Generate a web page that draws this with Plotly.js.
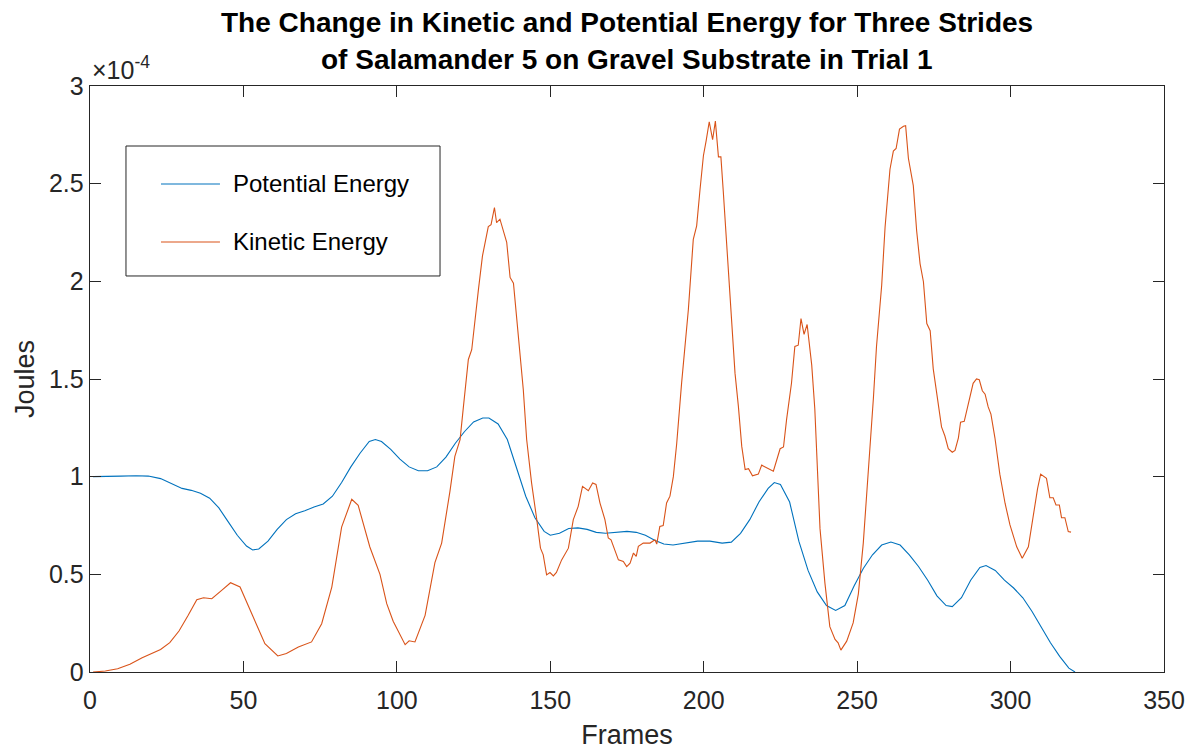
<!DOCTYPE html>
<html>
<head>
<meta charset="utf-8">
<script src="https://cdn.plot.ly/plotly-3.0.1.min.js"></script>
<style>html,body{margin:0;padding:0;background:#fff;}#chart{width:1186px;height:750px;}</style>
</head>
<body>
<div id="chart"></div>
<script>
// Values in units of 1e-4 J (axis shows ×10^-4)
const peFrames = [1,5,10,15,19,23,27,30,33,36,39,42,45,48,51,53,55,58,61,64,67,70,73,76,79,82,85,88,91,93,95,98,101,104,107,110,113,116,119,122,125,128,130,133,136,139,142,145,148,150,153,156,159,162,165,168,172,175,178,181,184,187,190,194,198,202,206,209,212,215,218,221,223,225,228,231,234,237,240,243,246,249,252,255,258,261,264,267,270,273,276,279,281,284,287,290,292,295,298,301,304,307,310,313,316,319,321];
const peValues = [1.00,1.00,1.003,1.005,1.003,0.99,0.96,0.94,0.93,0.915,0.89,0.84,0.77,0.70,0.645,0.625,0.63,0.67,0.73,0.78,0.81,0.825,0.845,0.86,0.90,0.97,1.05,1.12,1.18,1.19,1.18,1.14,1.09,1.05,1.03,1.03,1.05,1.10,1.17,1.23,1.28,1.30,1.30,1.27,1.19,1.04,0.90,0.79,0.72,0.70,0.71,0.735,0.738,0.73,0.715,0.71,0.715,0.72,0.715,0.70,0.675,0.655,0.65,0.66,0.67,0.67,0.66,0.665,0.71,0.78,0.87,0.94,0.97,0.96,0.87,0.67,0.52,0.41,0.34,0.315,0.34,0.44,0.53,0.60,0.65,0.665,0.65,0.60,0.54,0.47,0.39,0.34,0.335,0.38,0.47,0.535,0.545,0.52,0.47,0.43,0.38,0.31,0.23,0.15,0.08,0.02,0.0];

const keFrames = [1,5,9,13,17,20,23,26,29,32,34.8,37,39.7,42.9,45.8,48.9,52.7,57,61.2,64,67.9,72.2,75.5,78.8,82,85.3,87.4,91.2,94.5,96.7,98.8,101,102.7,104,105.9,109.2,112.4,114.6,115.7,117.3,118.9,120.6,121.7,123.3,124.4,126,126.6,127.9,129.8,130.7,131.8,132.5,133.6,135.8,136.9,138,139.6,141.2,142.3,143.9,145.6,146.8,147.7,148.8,149.9,151,152,153.7,155.9,157.5,159.1,160.5,162.4,163.8,164.9,166.2,167.8,168.9,169.8,172.2,173.8,174.9,176,177.1,178,178.7,180.3,182.5,184.1,184.7,185.7,186.8,187.9,189,190.1,191.2,192.8,194.4,195,196.6,197.7,198.8,199.9,200.8,201.8,202.9,203.8,204.8,205.6,206.4,207.5,208.9,210.2,211.3,212.4,213.5,214.6,215.9,217.8,218.9,222.7,224.9,226,227,228.1,228.6,229.7,230.8,231.7,232.7,233.7,235.2,236.2,237.1,237.9,239.5,241.1,242.8,243.8,244.7,246.6,248.7,250.4,252,253.6,255.3,256.3,258,259.1,260.7,261.8,262.7,263.8,265.1,265.8,266.7,268.3,269.4,270.5,271.6,272.7,273.8,274.8,276.5,277.5,278.6,279.7,281,281.9,283,283.7,284.9,285.6,286.8,287.8,288.9,289.8,290.8,291.7,292.7,293.6,294.9,296.5,298.2,299.8,302,303.8,305.8,307.4,308.8,309.8,311.7,312.8,313.9,314.8,315.9,316.6,317.7,318.8,319.7];
const keValues = [0.0,0.005,0.017,0.04,0.073,0.095,0.115,0.15,0.21,0.29,0.37,0.38,0.375,0.418,0.457,0.435,0.30,0.145,0.082,0.095,0.128,0.154,0.247,0.435,0.742,0.884,0.853,0.64,0.50,0.35,0.26,0.19,0.14,0.16,0.154,0.29,0.56,0.66,0.763,0.925,1.104,1.19,1.36,1.60,1.65,1.89,1.96,2.13,2.28,2.29,2.378,2.30,2.318,2.20,2.02,1.99,1.737,1.446,1.19,0.968,0.78,0.634,0.60,0.497,0.509,0.492,0.51,0.574,0.634,0.78,0.848,0.95,0.928,0.968,0.96,0.865,0.78,0.686,0.677,0.574,0.566,0.54,0.557,0.609,0.592,0.643,0.66,0.66,0.677,0.655,0.745,0.75,0.865,0.90,1.00,1.17,1.48,1.77,1.856,2.215,2.284,2.47,2.643,2.72,2.817,2.725,2.82,2.637,2.637,2.455,2.198,1.856,1.53,1.36,1.155,1.036,1.041,1.004,1.013,1.059,1.028,1.143,1.152,1.292,1.422,1.478,1.667,1.673,1.809,1.729,1.779,1.571,1.348,1.013,0.734,0.455,0.232,0.167,0.149,0.112,0.158,0.251,0.40,0.66,1.013,1.403,1.664,1.98,2.277,2.574,2.667,2.68,2.779,2.794,2.797,2.63,2.49,2.258,2.091,1.998,1.784,1.747,1.552,1.375,1.255,1.208,1.143,1.125,1.134,1.199,1.279,1.283,1.329,1.422,1.478,1.50,1.496,1.44,1.422,1.357,1.32,1.199,1.013,0.864,0.753,0.641,0.582,0.641,0.809,0.939,1.013,0.991,0.892,0.892,0.855,0.855,0.79,0.79,0.719,0.716];

const seriesNames = ['Potential Energy', 'Kinetic Energy'];
const xTicks = [0,50,100,150,200,250,300,350];
const yTicks = [0,0.5,1,1.5,2,2.5,3];
const yTickText = ['0','0.5','1','1.5','2','2.5','3'];
const titleLines = ['The Change in Kinetic and Potential Energy for Three Strides',
                    'of Salamander 5 on Gravel Substrate in Trial 1'];

const BLUE = '#0072BD', ORANGE = '#D95319', AX = '#262626';
const FONT = 'Liberation Sans, Arial, Helvetica, sans-serif';

const traces = [
  {x: peFrames, y: peValues, type: 'scatter', mode: 'lines', name: seriesNames[0],
   line: {color: BLUE, width: 1.1}, showlegend: false, hoverinfo: 'skip'},
  {x: keFrames, y: keValues, type: 'scatter', mode: 'lines', name: seriesNames[1],
   line: {color: ORANGE, width: 1.1}, showlegend: false, hoverinfo: 'skip'}
];

// legend box geometry (paper coords)
const lgX0 = 0.0335, lgX1 = 0.3259, lgY0 = 0.6758, lgY1 = 0.8976;
const lgRows = [0.8328, 0.7338];
const lgColors = [BLUE, ORANGE];
const titleRows = [1.1092, 1.0444];

const shapes = [
  {type: 'rect', xref: 'paper', yref: 'paper', x0: lgX0, x1: lgX1, y0: lgY0, y1: lgY1,
   line: {color: AX, width: 1}, fillcolor: '#ffffff', layer: 'above'}
];
const annotations = [
  {xref: 'paper', yref: 'paper', x: 0, y: 1, xanchor: 'left', yanchor: 'bottom', xshift: 0, yshift: 0,
   text: '\u00d710<sup>-4</sup>', showarrow: false, font: {family: FONT, size: 25, color: AX}}
];
titleLines.forEach((t, i) => {
  annotations.push({xref: 'paper', yref: 'paper', x: 0.5, y: titleRows[i], xanchor: 'center', yanchor: 'middle',
                    text: '<b>' + t + '</b>', showarrow: false, font: {family: FONT, size: 28, color: '#000'}});
});
seriesNames.forEach((n, i) => {
  shapes.push({type: 'line', xref: 'paper', yref: 'paper', x0: 0.0661, x1: 0.1210, y0: lgRows[i], y1: lgRows[i],
               line: {color: lgColors[i], width: 1.1}, layer: 'above'});
  annotations.push({xref: 'paper', yref: 'paper', x: 0.1313, y: lgRows[i], xanchor: 'left', yanchor: 'middle',
                    text: n, showarrow: false, font: {family: FONT, size: 24, color: '#000'}});
});

const axisCommon = {
  showline: true, linecolor: AX, linewidth: 1.3, mirror: 'ticks',
  ticks: 'inside', ticklen: 11, tickwidth: 1, tickcolor: AX,
  showgrid: false, zeroline: false, fixedrange: true,
  tickfont: {family: FONT, size: 25, color: AX}
};

const layout = {
  width: 1186, height: 750,
  margin: {l: 90, r: 22, t: 86, b: 78},
  paper_bgcolor: '#fff', plot_bgcolor: '#fff',
  xaxis: Object.assign({}, axisCommon, {
    range: [0, 350], tickvals: xTicks, ticktext: xTicks.map(String), ticklabelstandoff: 6,
    title: {text: 'Frames', font: {family: FONT, size: 27, color: AX}, standoff: 14}
  }),
  yaxis: Object.assign({}, axisCommon, {
    range: [0, 3], tickvals: yTicks, ticktext: yTickText,
    title: {text: 'Joules', font: {family: FONT, size: 27, color: AX}, standoff: 6}
  }),
  shapes: shapes,
  annotations: annotations,
  showlegend: false
};

Plotly.newPlot('chart', traces, layout, {displayModeBar: false, staticPlot: true});
</script>
</body>
</html>
